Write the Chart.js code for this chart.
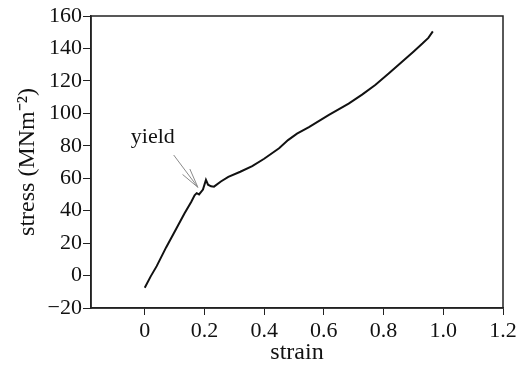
<!DOCTYPE html>
<html>
<head>
<meta charset="utf-8">
<script src="https://cdn.jsdelivr.net/npm/chart.js@4.4.1/dist/chart.umd.min.js"></script>
<style>
html,body{margin:0;padding:0;background:#fff;}
#wrap{width:528px;height:367px;}
</style>
</head>
<body>
<div id="wrap"><canvas id="c" width="528" height="367"></canvas></div>
<script>
// ---- data ----
const strain = [0, 0.02, 0.04, 0.072, 0.106, 0.133, 0.156, 0.167, 0.174, 0.182, 0.195, 0.205, 0.212, 0.222, 0.232, 0.255, 0.28, 0.32, 0.36, 0.40, 0.45, 0.48, 0.51, 0.55, 0.617, 0.683, 0.728, 0.772, 0.817, 0.86, 0.90, 0.93, 0.95, 0.965];
const stress = [-7.5, -0.5, 5.8, 17.5, 29, 38.3, 45.5, 49.5, 50.8, 50, 53, 59, 56, 55, 54.8, 58, 60.8, 64, 67.5, 72, 78.5, 83.5, 87.5, 91.5, 99, 106, 111.5, 117.5, 124.5, 131.5, 138, 143, 146.5, 150.5];
const xTickValues = [0, 0.2, 0.4, 0.6, 0.8, 1.0, 1.2];
const yTickValues = [-20, 0, 20, 40, 60, 80, 100, 120, 140, 160];
const annotationText = 'yield';
const annotationTextAt = [0.027, 85.4];
const arrowFrom = [0.097, 74.3];
const arrowTo = [0.178, 54.4];

const FONT = "'Liberation Serif', 'Times New Roman', serif";
const INK = '#111';

const framePlugin = {
  id: 'frame',
  afterDatasetsDraw(chart) {
    const {ctx, chartArea: a, scales} = chart;
    ctx.save();
    ctx.strokeStyle = '#222';
    ctx.lineWidth = 1.5;
    ctx.strokeRect(a.left, a.top, a.right - a.left, a.bottom - a.top);
    // annotation
    const x = scales.x, y = scales.y;
    const x0 = x.getPixelForValue(arrowFrom[0]), y0 = y.getPixelForValue(arrowFrom[1]);
    const x1 = x.getPixelForValue(arrowTo[0]), y1 = y.getPixelForValue(arrowTo[1]);
    ctx.strokeStyle = '#8a8a8a';
    ctx.lineWidth = 1;
    ctx.beginPath();
    ctx.moveTo(x0, y0); ctx.lineTo(x1, y1);
    const ang = Math.atan2(y0 - y1, x0 - x1);
    const L = 20, spread = 0.23;
    ctx.moveTo(x1, y1); ctx.lineTo(x1 + L * Math.cos(ang - spread), y1 + L * Math.sin(ang - spread));
    ctx.moveTo(x1, y1); ctx.lineTo(x1 + L * Math.cos(ang + spread), y1 + L * Math.sin(ang + spread));
    ctx.stroke();
    ctx.fillStyle = INK;
    ctx.font = '22px ' + FONT;
    ctx.textAlign = 'center';
    ctx.textBaseline = 'middle';
    ctx.fillText(annotationText, x.getPixelForValue(annotationTextAt[0]), y.getPixelForValue(annotationTextAt[1]));
    ctx.restore();
  }
};

const fmt = v => {
  if (Math.abs(v) < 1e-9) return '0';
  return v < 0 ? '\u2212' + Math.abs(v) : String(v);
};

new Chart(document.getElementById('c'), {
  type: 'line',
  data: {
    datasets: [{
      data: strain.map((s, i) => ({x: s, y: stress[i]})),
      borderColor: INK,
      borderWidth: 2,
      pointRadius: 0,
      tension: 0,
      fill: false
    }]
  },
  options: {
    responsive: false,
    animation: false,
    devicePixelRatio: 1,
    layout: {padding: {left: 0, top: 16, right: 25, bottom: 0}},
    plugins: {legend: {display: false}, tooltip: {enabled: false}},
    scales: {
      x: {
        type: 'linear',
        min: -0.18, max: 1.2,
        afterBuildTicks: s => { s.ticks = xTickValues.map(v => ({value: v})); },
        afterFit: s => { s.height = 59; },
        ticks: {
          includeBounds: false,
          color: INK,
          font: {family: FONT, size: 22},
          padding: 3,
          maxRotation: 0,
          callback: v => Math.abs(v) < 1e-9 ? '0' : Number(v).toFixed(1)
        },
        grid: {drawOnChartArea: false, drawTicks: true, tickLength: 7, color: '#222', lineWidth: 1},
        border: {display: true, color: '#222', width: 1.5},
        title: {display: true, text: 'strain', color: INK, font: {family: FONT, size: 24}, padding: {top: 4, bottom: 0}}
      },
      y: {
        type: 'linear',
        min: -20, max: 160,
        afterBuildTicks: s => { s.ticks = yTickValues.map(v => ({value: v})); },
        afterFit: s => { s.width = 91; },
        ticks: {
          color: INK,
          font: {family: FONT, size: 22},
          padding: 1,
          callback: v => fmt(v)
        },
        grid: {drawOnChartArea: false, drawTicks: true, tickLength: 8, color: '#222', lineWidth: 1},
        border: {display: true, color: '#222', width: 1.5},
        title: {display: true, text: 'stress (MNm\u207B\u00B2)', color: INK, font: {family: FONT, size: 24}, padding: {top: 13, bottom: 0}}
      }
    }
  },
  plugins: [framePlugin]
});
</script>
</body>
</html>
